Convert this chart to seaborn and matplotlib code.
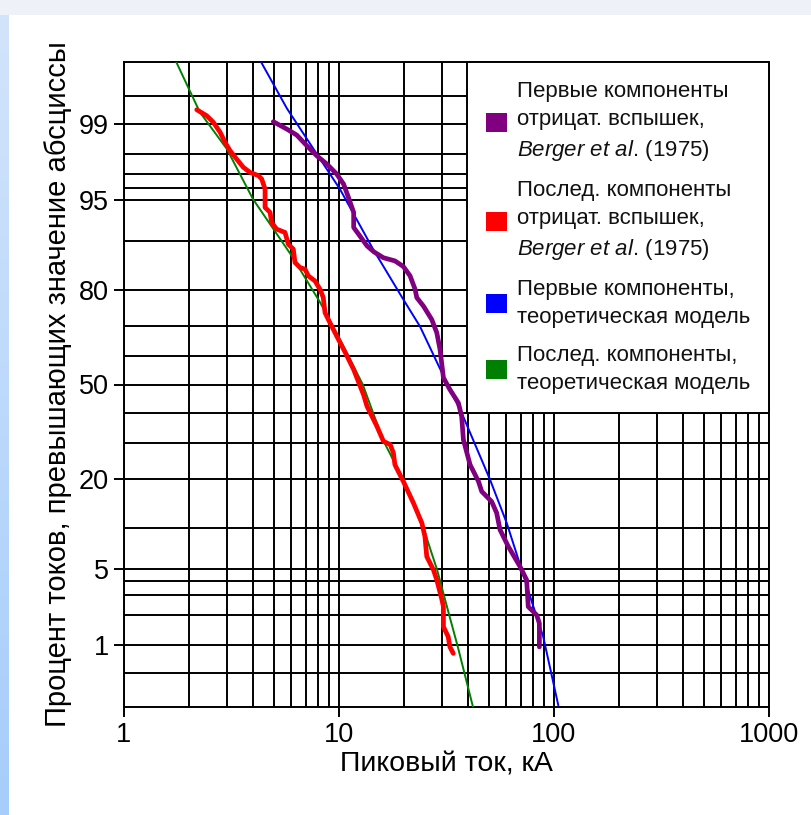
import numpy as np
import pandas as pd
import matplotlib
matplotlib.use("Agg")
import matplotlib.pyplot as plt
import seaborn as sns
from matplotlib.patches import Patch, Rectangle
from matplotlib.colors import LinearSegmentedColormap
from matplotlib.ticker import FixedLocator, FixedFormatter, NullFormatter, LogLocator
from statistics import NormalDist

# --- Data: peak current (kA) vs. percent of currents exceeding it ---
first_model_current = [4.34, 5.73, 8.17, 10.1, 14.4, 19.9, 23.8, 30.1, 37.8,
                       50.4, 60.3, 70.8, 80.2, 89.1, 104.7]
first_model_percent = [99.8, 99.31, 97.79, 95.94, 88.65, 77.64, 69.8, 54.2, 38.8,
                       19.8, 10.8, 4.9, 2.37, 1.22, 0.21]

subseq_model_current = [1.75, 2.25, 3.01, 3.98, 6.04, 8.17, 10.1, 12.9, 16.0,
                        19.9, 24.6, 28.6, 32.1, 35.7, 42.0]
subseq_model_percent = [99.8, 99.25, 98.22, 95.1, 87.4, 76.8, 65.6, 50.0, 31.1,
                        19.8, 10.2, 4.9, 2.2, 0.96, 0.2]

first_berger_current = [4.95, 5.71, 6.36, 7.08, 7.88, 8.77, 9.76, 10.5, 11.0, 11.7,
                        11.7, 12.5, 13.5, 14.5, 16.1, 18.2, 19.9, 21.4, 22.6, 23.0,
                        24.7, 27.0, 28.5, 29.5, 30.6, 32.8, 35.9, 37.2, 37.9, 40.7,
                        44.5, 46.1, 51.3, 54.1, 56.1, 61.3, 69.5, 74.6, 75.9, 83.1,
                        85.5, 85.5]
first_berger_percent = [99.05, 98.87, 98.70, 98.35, 97.94, 97.55, 96.98, 96.32, 95.39,
                        93.77, 91.95, 90.76, 89.2, 88.2, 87.1, 86.5, 85.4, 83.4, 80.2,
                        78.1, 75.8, 71.9, 67.8, 62.3, 52.4, 48.2, 43.5, 38.8, 31.1,
                        23.7, 19.4, 17.0, 14.8, 12.6, 9.74, 7.41, 5.21, 4.06, 2.37,
                        1.98, 1.65, 0.96]

subseq_berger_current = [2.18, 2.42, 2.60, 2.80, 2.95, 3.11, 3.34, 3.59, 3.85, 4.22,
                         4.37, 4.53, 4.53, 4.78, 4.86, 5.13, 5.61, 5.81, 6.13, 6.24,
                         6.59, 6.95, 7.20, 7.73, 8.16, 8.45, 8.61, 9.08, 9.76, 10.7,
                         11.7, 13.0, 13.5, 15.0, 16.1, 17.3, 17.9, 18.2, 19.9, 22.2,
                         24.3, 25.1, 25.6, 27.5, 28.5, 30.0, 30.6, 30.6, 32.2, 32.8,
                         34.0]
subseq_berger_percent = [99.29, 99.18, 99.04, 98.78, 98.47, 98.16, 97.79, 97.37, 97.09,
                         96.88, 96.67, 95.94, 94.30, 93.77, 92.59, 91.72, 91.26, 89.47,
                         88.65, 86.19, 85.17, 84.82, 83.38, 82.23, 80.23, 78.1, 73.9,
                         70.9, 66.7, 61.2, 55.3, 46.4, 42.3, 35.5, 30.6, 29.6, 27.1,
                         23.7, 19.4, 14.5, 10.8, 8.74, 6.23, 4.90, 4.06, 2.82, 2.37,
                         1.53, 1.22, 0.96, 0.82]

y_major = [1, 5, 20, 50, 80, 95, 99]
y_major_labels = ["1", "5", "20", "50", "80", "95", "99"]
y_minor = [0.5, 2, 3, 4, 10, 30, 40, 60, 70, 90, 96, 97, 98, 99.5]
x_major = [1, 10, 100, 1000]
x_major_labels = ["1", "10", "100", "1000"]

legend_labels = [
    "Первые компоненты\nотрицат. вспышек,\n$\\mathit{Berger\\ et\\ al.}\\,$(1975)",
    "Послед. компоненты\nотрицат. вспышек,\n$\\mathit{Berger\\ et\\ al.}\\,$(1975)",
    "Первые компоненты,\nтеоретическая модель",
    "Послед. компоненты,\nтеоретическая модель",
]
legend_colors = ["#800080", "#ff0000", "#0000ff", "#008000"]

# --- Style ---
sns.set_theme(style="white")
plt.rcParams["font.family"] = ["Liberation Sans", "DejaVu Sans"]
plt.rcParams["mathtext.fontset"] = "custom"
plt.rcParams["mathtext.it"] = "Liberation Sans:italic"
plt.rcParams["mathtext.rm"] = "Liberation Sans"

# Normal-probability scale for the percent axis
_nd = NormalDist()
_ppf = np.vectorize(_nd.inv_cdf, otypes=[float])
_cdf = np.vectorize(_nd.cdf, otypes=[float])


def prob_forward(p):
    p = np.clip(np.asarray(p, dtype=float) / 100.0, 1e-9, 1 - 1e-9)
    return _ppf(p)


def prob_inverse(z):
    return _cdf(np.asarray(z, dtype=float)) * 100.0


W, H = 812, 815
fig = plt.figure(figsize=(W / 100, H / 100), dpi=100, facecolor="#eef2f8")

# page panel and left accent strip
fig.add_artist(Rectangle((9 / W, 0), 1, 800 / H, transform=fig.transFigure,
                         facecolor="white", edgecolor="none", zorder=-10))
strip = fig.add_axes([0, 0, 9 / W, 800 / H])
strip_cmap = LinearSegmentedColormap.from_list("strip", ["#d2e4fb", "#a6cdfb"])
strip.imshow(np.linspace(0, 1, 256).reshape(-1, 1), aspect="auto", cmap=strip_cmap)
strip.axis("off")

ax = fig.add_axes([124 / W, 108 / H, 645 / W, 645 / H])
ax.set_facecolor("white")

series = [
    (first_model_current, first_model_percent, "#0000ff", 1.4),
    (subseq_model_current, subseq_model_percent, "#008000", 1.4),
    (first_berger_current, first_berger_percent, "#800080", 3.4),
    (subseq_berger_current, subseq_berger_percent, "#ff0000", 3.4),
]
for cur, pct, col, lw in series:
    df = pd.DataFrame({"current": cur, "percent": pct})
    sns.lineplot(data=df, x="current", y="percent", sort=False, estimator=None,
                 color=col, lw=lw, ax=ax, solid_capstyle="round",
                 solid_joinstyle="round", zorder=3)

ax.set_xscale("log")
ax.set_yscale("function", functions=(prob_forward, prob_inverse))
ax.set_xlim(1, 1000)
ax.set_ylim(0.2, 99.8)

ax.xaxis.set_major_locator(FixedLocator(x_major))
ax.xaxis.set_major_formatter(FixedFormatter(x_major_labels))
ax.xaxis.set_minor_locator(LogLocator(base=10, subs=np.arange(2, 10)))
ax.xaxis.set_minor_formatter(NullFormatter())
ax.yaxis.set_major_locator(FixedLocator(y_major))
ax.yaxis.set_major_formatter(FixedFormatter(y_major_labels))
ax.yaxis.set_minor_locator(FixedLocator(y_minor))
ax.yaxis.set_minor_formatter(NullFormatter())

ax.tick_params(which="major", direction="out", length=7, width=1.4,
               color="black", labelsize=19.5, labelcolor="black", pad=4,
               bottom=True, left=True)
ax.tick_params(which="minor", length=0)
ax.grid(which="both", color="black", lw=1.4)
ax.set_axisbelow(True)
for sp in ax.spines.values():
    sp.set_visible(True)
    sp.set_color("black")
    sp.set_linewidth(1.4)

ax.set_xlabel("Пиковый ток, кА", fontsize=20.5, color="black", labelpad=2)
ax.set_ylabel("Процент токов, превышающих значение абсциссы", fontsize=21,
              color="black", labelpad=5)

handles = [Patch(facecolor=c, edgecolor="none") for c in legend_colors]
leg = ax.legend(handles, legend_labels, loc="upper right", bbox_to_anchor=(1, 1),
                borderaxespad=0, frameon=True, fancybox=False, edgecolor="black",
                framealpha=1, facecolor="white", fontsize=16, handlelength=0.95,
                handleheight=0.95, handletextpad=0.45, borderpad=0.85,
                labelspacing=0.75)
leg.get_frame().set_linewidth(1.4)
for t in leg.get_texts():
    t.set_linespacing(1.45)
    t.set_color("#111111")

fig.savefig("out.png", dpi=100, facecolor=fig.get_facecolor())
